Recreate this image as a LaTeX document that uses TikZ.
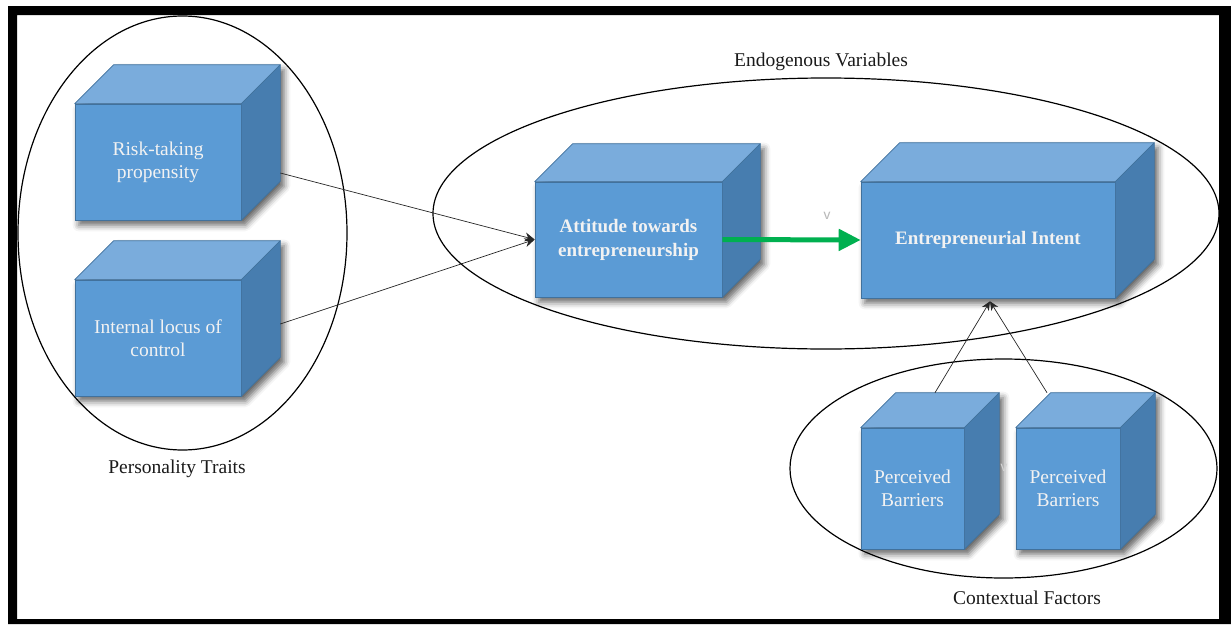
\documentclass[tikz,border=0pt]{standalone}
\usepackage{fontspec}
\setmainfont{Liberation Serif}
\usetikzlibrary{arrows.meta,calc,backgrounds,shadows.blur}

\definecolor{frontblue}{HTML}{5B9BD5}
\definecolor{topblue}{HTML}{7AACDC}
\definecolor{sideblue}{HTML}{477DAF}
\definecolor{edgeblue}{HTML}{41719C}
\definecolor{arrowgreen}{HTML}{00B050}
\definecolor{labelink}{HTML}{1A1A1A}

\tikzset{
  cubefront/.style={draw=edgeblue, line width=0.6pt, fill=frontblue, inner sep=0pt,
    text=white!95!black, align=center, font=\fontsize{19.5}{23}\selectfont},
  cubetop/.style={draw=edgeblue, line width=0.6pt, fill=topblue, line join=round},
  cubeside/.style={draw=edgeblue, line width=0.6pt, fill=sideblue, line join=round},
  cubeshadow/.style={blur shadow={shadow xshift=4pt, shadow yshift=-5pt,
    shadow blur radius=6pt, shadow opacity=60}},
  ring/.style={draw=black, line width=1.2pt},
  grouplabel/.style={text=labelink, font=\fontsize{19.5}{23}\selectfont, inner sep=0pt},
  thinlink/.style={draw=black!85, line width=0.7pt},
  faintmark/.style={text=gray!55, font=\sffamily\fontsize{17}{17}\selectfont, inner sep=0pt}
}

% top and side faces of a box, drawn from the anchors of its front node
\newcommand\cubefaces[2]{%
  \begin{pgfonlayer}{background}
    \path[cubeshadow] (#1.south west) -- (#1.north west) -- ($(#1.north west)+(#2,-#2)$)
      -- ($(#1.north east)+(#2,-#2)$) -- ($(#1.south east)+(#2,-#2)$) -- (#1.south east) -- cycle;
  \end{pgfonlayer}
  \filldraw[cubetop] (#1.north west) -- ($(#1.north west)+(#2,-#2)$)
    -- ($(#1.north east)+(#2,-#2)$) -- (#1.north east) -- cycle;
  \filldraw[cubeside] (#1.north east) -- ($(#1.north east)+(#2,-#2)$)
    -- ($(#1.south east)+(#2,-#2)$) -- (#1.south east) -- cycle;
}

\begin{document}
\begin{tikzpicture}[x=1pt, y=-1pt]
  \useasboundingbox (0,0) rectangle (1231,624);

  % outer frame
  \fill[black, even odd rule] (8,6) rectangle (1231,624) (17,15) rectangle (1219,619);

  % grouping ellipses
  \draw[ring] (182.5,233) ellipse [x radius=164.5pt, y radius=217pt];
  \draw[ring] (826,213.5) ellipse [x radius=393pt, y radius=135.5pt];
  \draw[ring] (1003.5,468.5) ellipse [x radius=213.5pt, y radius=109.5pt];

  % group captions
  \node[grouplabel] (lblpers) at (177,469) {Personality Traits};
  \node[grouplabel] (lblendo) at (821,62) {Endogenous Variables};
  \node[grouplabel] (lblctx) at (1027,598) {Contextual Factors};

  % boxes
  \node[cubefront, minimum width=166pt, minimum height=116pt] (risk) at (158,162)
    {Risk-taking\\propensity};
  \cubefaces{risk}{39}
  \node[cubefront, minimum width=166pt, minimum height=116pt] (locus) at (158,338)
    {Internal locus of\\control};
  \cubefaces{locus}{39}
  \node[cubefront, minimum width=187pt, minimum height=115pt, font=\bfseries\fontsize{19}{24}\selectfont] (attitude) at (628.5,239.5)
    {Attitude towards\\entrepreneurship};
  \cubefaces{attitude}{38}
  \node[cubefront, minimum width=254pt, minimum height=116pt, font=\bfseries\fontsize{19}{23}\selectfont] (intent) at (988,240)
    {Entrepreneurial Intent};
  \cubefaces{intent}{39}
  \node[cubefront, minimum width=103pt, minimum height=121pt] (barrierA) at (912.5,488.5)
    {Perceived\\Barriers};
  \cubefaces{barrierA}{35}
  \node[cubefront, minimum width=104pt, minimum height=121pt] (barrierB) at (1068,488.5)
    {Perceived\\Barriers};
  \cubefaces{barrierB}{35}

  % faint marks
  \node[faintmark] (markA) at (827,216) {v};
  \node[faintmark, text=gray!35] (markB) at (1004,468) {v};

  % connectors
  \draw[thinlink, -{Stealth[length=10pt, width=9pt]}] ($(risk.east)+(39,11)$) -- (attitude.west);
  \draw[thinlink, -{Stealth[length=10pt, width=9pt]}] ($(locus.east)+(39,-14)$) -- (attitude.west);
  \draw[arrowgreen, line width=5pt, -{Triangle[length=22pt, width=21pt]}] (attitude.east) -- (intent.west);
  \coordinate (intenttip) at ($(intent.south)+(2,3)$);
  \draw[thinlink, -{Stealth[length=9pt, width=8pt]}] ($(barrierA.north)+(22.5,-35)$) -- (intenttip);
  \draw[thinlink, -{Stealth[length=9pt, width=8pt]}] ($(barrierB.north)+(-21,-35)$) -- (intenttip);
\end{tikzpicture}
\end{document}
